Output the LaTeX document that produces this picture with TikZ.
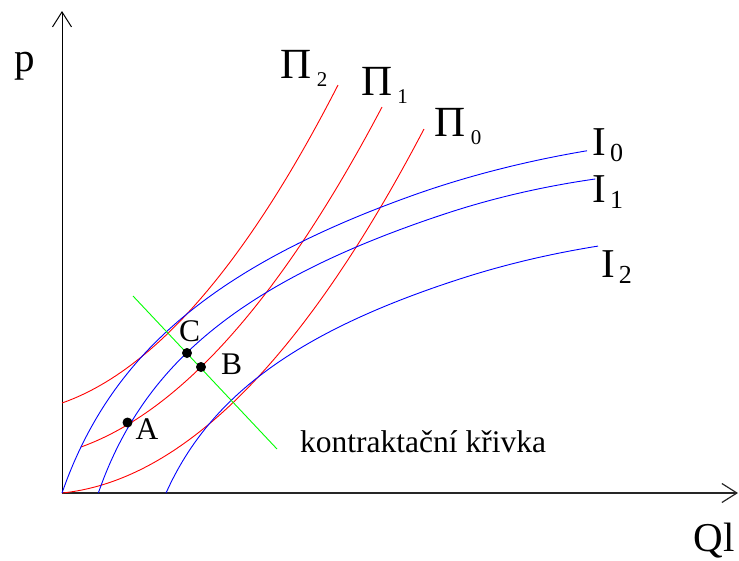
\documentclass[tikz,border=0pt]{standalone}
\usepackage{fontspec}
\setmainfont{Liberation Serif}
\usetikzlibrary{arrows.meta}
\tikzset{
  curveR/.style={red, line width=0.9pt},
  curveB/.style={blue, line width=0.9pt},
  contract/.style={green, line width=0.9pt},
  axisline/.style={line width=1pt, -{Straight Barb[length=15pt,width=19pt]}},
  dotpt/.style={circle, fill=black, inner sep=0pt, minimum size=10pt},
  lbl/.style={inner sep=0pt, anchor=base west},
  bigf/.style={font=\fontsize{41pt}{41pt}\selectfont},
  pif/.style={font=\fontsize{43pt}{43pt}\selectfont},
  midf/.style={font=\fontsize{31.5pt}{31.5pt}\selectfont},
  fplot/.style={samples=90, smooth},
}
\newcommand{\subI}[1]{\hspace{4pt}\raisebox{-6pt}{\fontsize{26pt}{26pt}\selectfont #1}}
\newcommand{\subPi}[1]{\hspace{5pt}\raisebox{-8.5pt}{\fontsize{21pt}{21pt}\selectfont #1}}
\begin{document}
\begin{tikzpicture}[x=1pt,y=-1pt]
\useasboundingbox (0,0) rectangle (739,560);
% axes
\coordinate (O) at (62,493);
\coordinate (ytop) at (62,11);
\coordinate (xend) at (738,493);
\draw[axisline] (O) -- (ytop);
\draw[axisline, line width=1.2pt, black!85] (O) -- (xend);
% profit curves (red)
\draw[curveR] plot[fplot, domain=0:276] ({62+\x},{403-0.35*\x-29.06*(\x/100)^2});
\draw[curveR] plot[fplot, domain=0:301] ({81+\x},{447-0.3598*\x-25.57*(\x/100)^2});
\draw[curveR] plot[fplot, domain=0:362] ({62+\x},{493-0.1016*\x-24.97*(\x/100)^2});
% indifference curves (blue)
\draw[curveB] plot[fplot, domain=0:525] ({62+\x},{493-143*ln(1+\x/50)+7*(max(\x-350,0)/175)^2});
\draw[curveB] plot[fplot, domain=0:497] ({98.3+\x},{493-129*ln(1+\x/45)+7*(max(\x-350,0)/147)^2});
\draw[curveB] plot[fplot, domain=0:432] ({166+\x},{493-111*ln(1+\x/50)+4.6*(max(\x-300,0)/132)^2});
% contract curve
\coordinate (g1) at (133,296);
\coordinate (g2) at (277,449);
\draw[contract] (g1) -- (g2);
% points
\node[dotpt] (A) at (127.5,422.5) {};
\node[dotpt] (B) at (201,367) {};
\node[dotpt] (C) at (187,353) {};
% labels
\node[lbl,bigf] (lp) at (14,71) {p};
\node[lbl,bigf] (lQ) at (693.5,551) {Ql};
\node[lbl,midf] (lA) at (135.5,439) {A};
\node[lbl,midf] (lB) at (221,374) {B};
\node[lbl,midf] (lC) at (179,341.5) {C};
\node[lbl,midf] (lk) at (300,452) {kontraktační křivka};
\node[lbl,pif] (lP2) at (280.5,78) {Π\subPi{2}};
\node[lbl,pif] (lP1) at (361.2,95) {Π\subPi{1}};
\node[lbl,pif] (lP0) at (434.5,136) {Π\subPi{0}};
\node[lbl,bigf] (lI0) at (592.3,155) {I\subI{0}};
\node[lbl,bigf] (lI1) at (592.3,202) {I\subI{1}};
\node[lbl,bigf] (lI2) at (601,277) {I\subI{2}};
\end{tikzpicture}
\end{document}
